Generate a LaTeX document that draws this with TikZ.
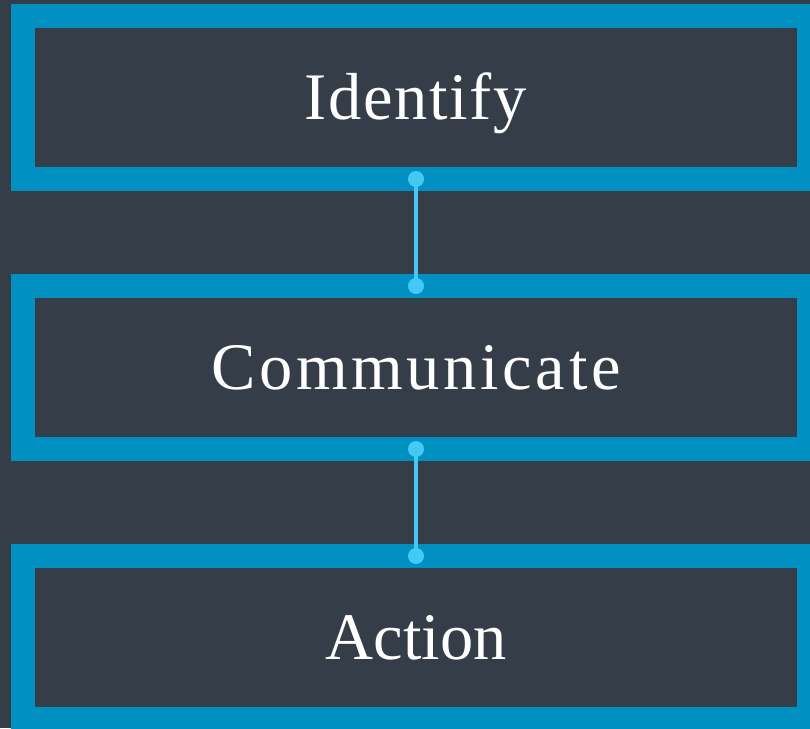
\documentclass[tikz,border=0pt]{standalone}
\usepackage{fontspec}
\setmainfont{Liberation Serif}
\usetikzlibrary{positioning}
\definecolor{bgdark}{HTML}{343D48}
\definecolor{frameblue}{HTML}{0090C2}
\definecolor{linkblue}{HTML}{44C8F5}
\tikzset{
	stage/.style={draw=frameblue, line width=24pt, fill=bgdark, outer sep=0pt,
		minimum width=786pt, minimum height=163pt, text=white,
		text height=44pt, text depth=0pt, font=\fontsize{66.5}{72}\selectfont},
	link/.style={linkblue, line width=4pt}
}
\begin{document}
\begin{tikzpicture}[x=1pt, y=1pt]
	\useasboundingbox (0, 0) rectangle (810, -728);
	\fill[bgdark] (0, 0) rectangle (810, -728);
	\clip (0, 0) rectangle (810, -728);
	\node[stage] (identify) at (416, -97.5) {\addfontfeature{LetterSpace=2.5}Identify};
	\node[stage, below=107pt of identify] (communicate) {\addfontfeature{LetterSpace=5.5}Communicate};
	\node[stage, below=107pt of communicate] (action) {Action};
	\draw[link] (identify.south) -- (communicate.north);
	\draw[link] (communicate.south) -- (action.north);
	\fill[linkblue] (identify.south) circle (8);
	\fill[linkblue] (communicate.north) circle (8);
	\fill[linkblue] (communicate.south) circle (8);
	\fill[linkblue] (action.north) circle (8);
\end{tikzpicture}
\end{document}
